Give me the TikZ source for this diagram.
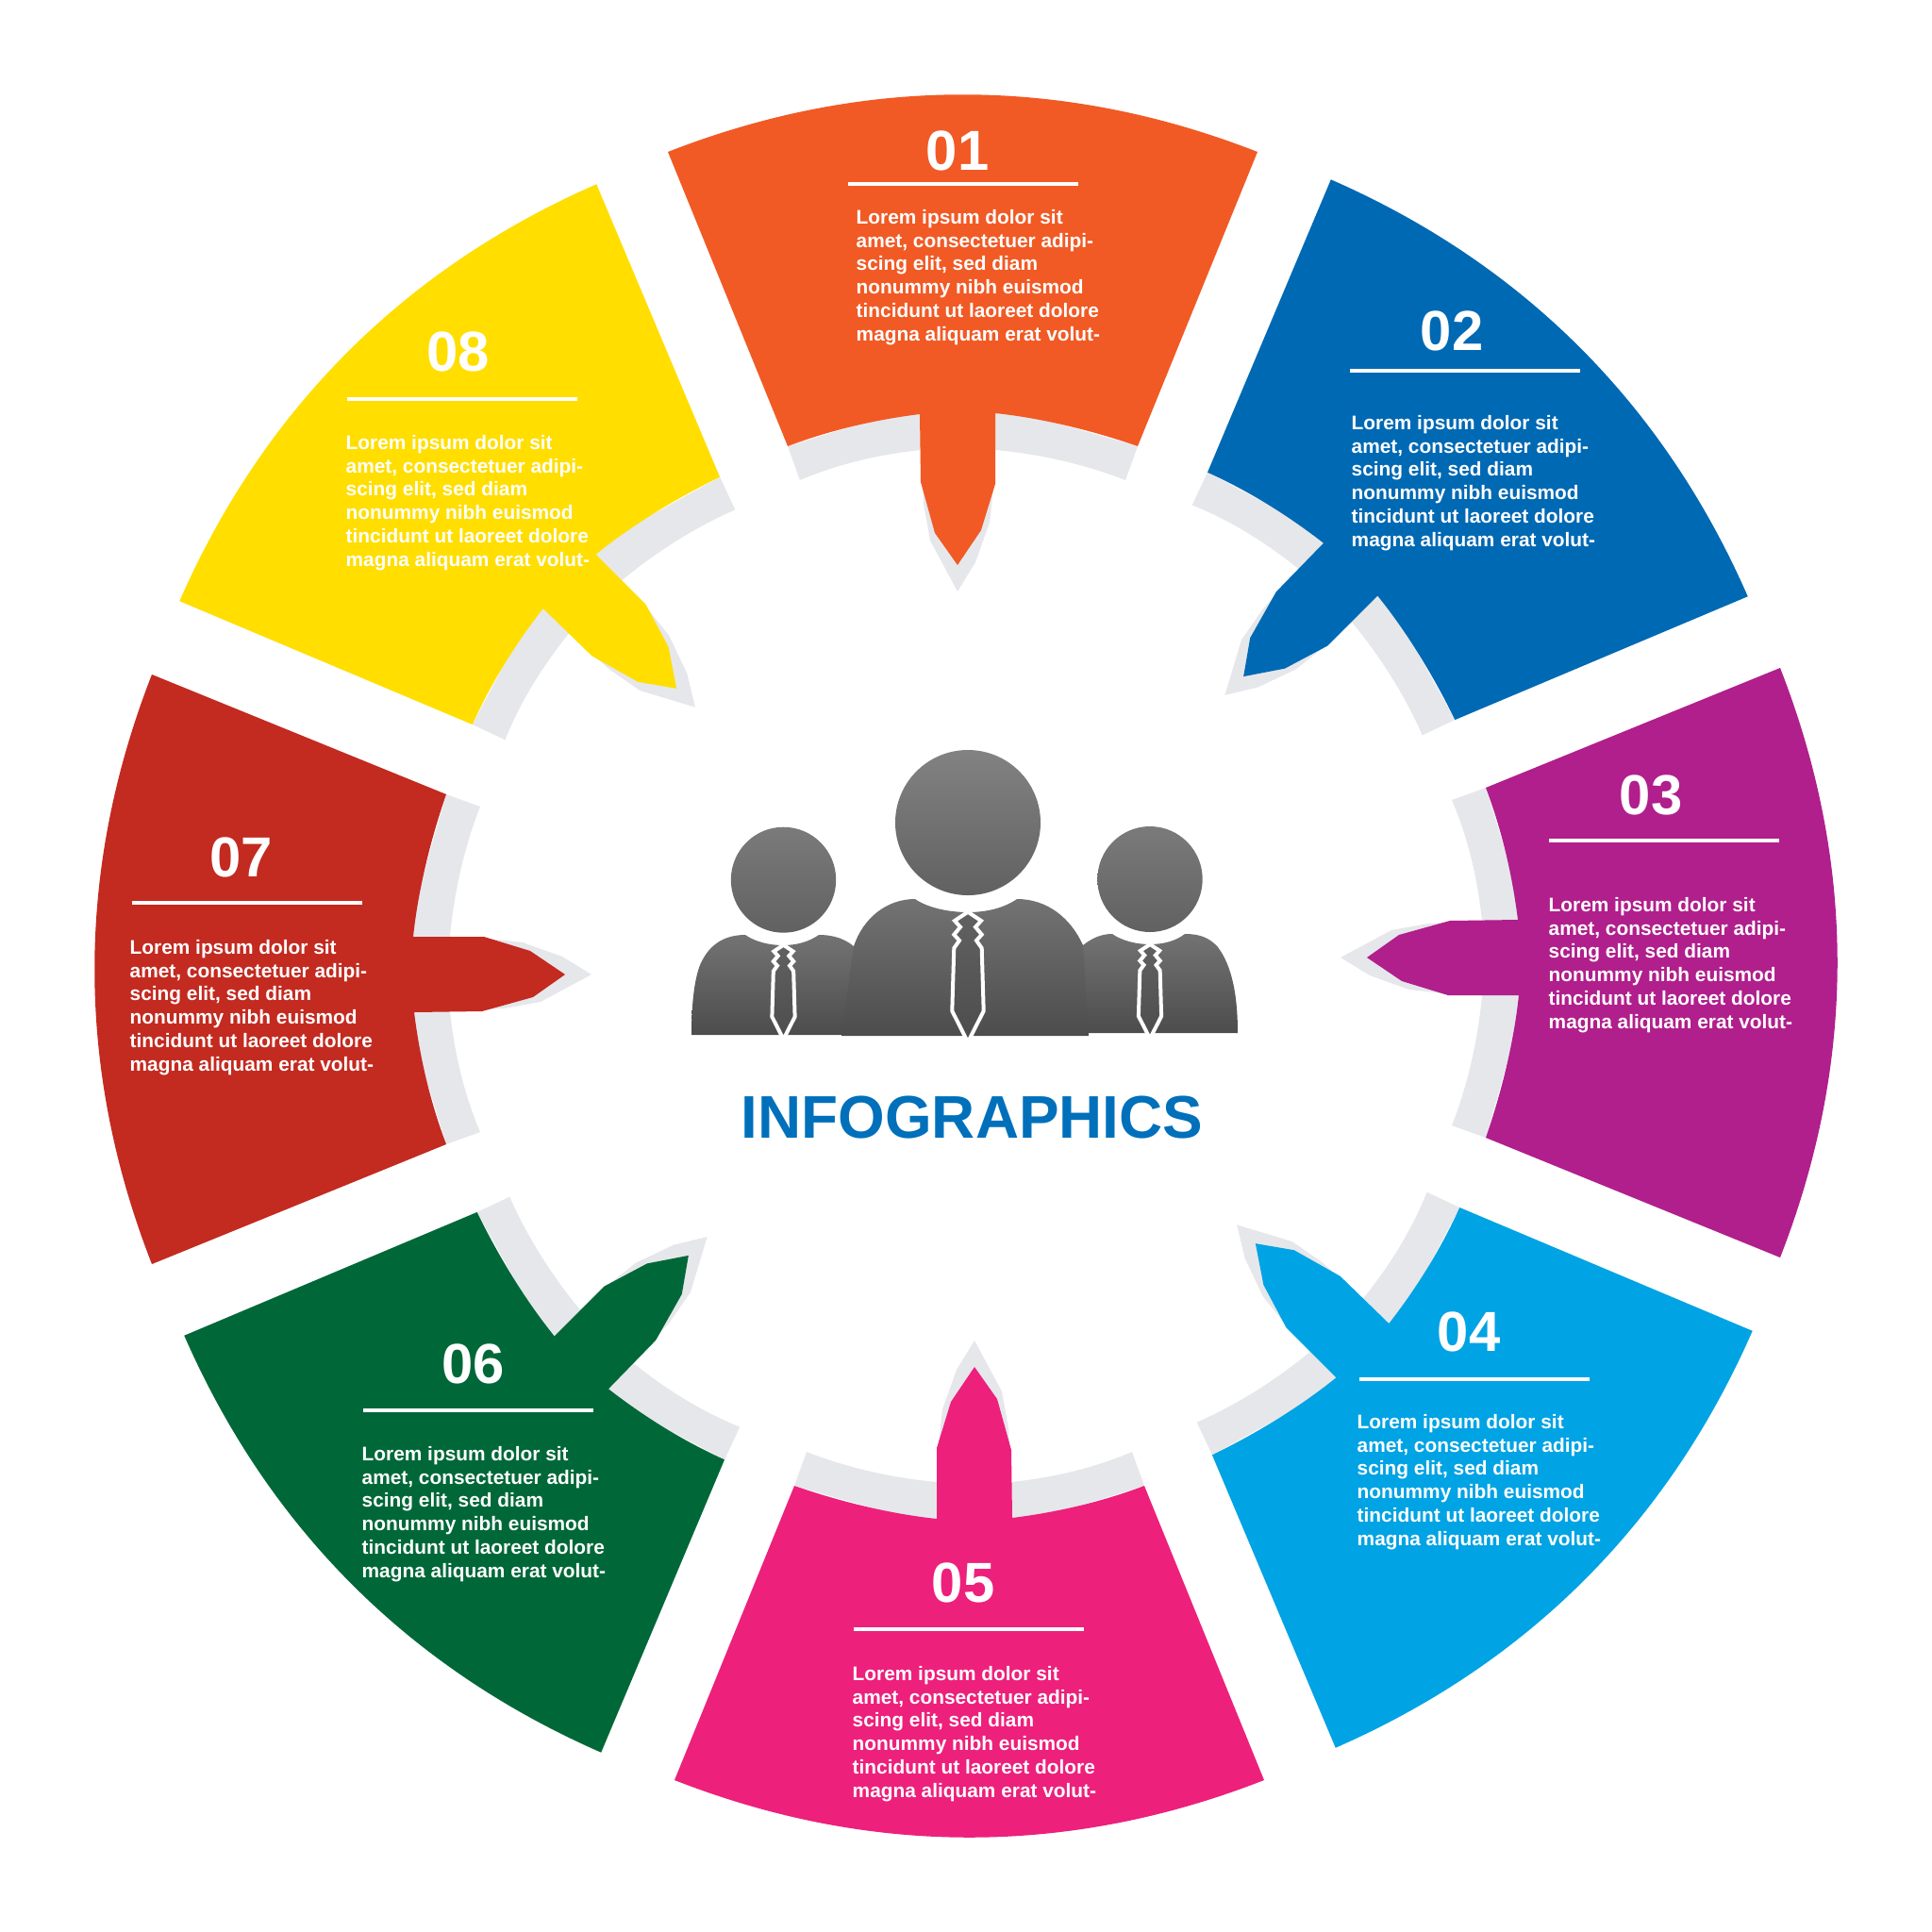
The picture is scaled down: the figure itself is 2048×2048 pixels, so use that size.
\documentclass[tikz,border=0pt]{standalone}
\usepackage{fontspec}
\setmainfont{Liberation Sans}
\definecolor{shadowgrey}{HTML}{E6E7EB}
\definecolor{petalA}{HTML}{F15A25}
\definecolor{petalB}{HTML}{0069B4}
\definecolor{petalC}{HTML}{B01F8C}
\definecolor{petalD}{HTML}{00A3E4}
\definecolor{petalE}{HTML}{ED207B}
\definecolor{petalF}{HTML}{006838}
\definecolor{petalG}{HTML}{C32A20}
\definecolor{petalH}{HTML}{FFDE00}
\definecolor{titleblue}{HTML}{0070BB}
\tikzset{
	numtext/.style={inner sep=0pt, text=white, font=\fontsize{17}{17}\selectfont\bfseries},
	blurb/.style={inner sep=0pt, anchor=west, align=left, text=white, font=\fontsize{5.93}{7.05}\selectfont\bfseries},
	rulebar/.style={inner sep=0pt, fill=white, minimum width=2.44cm, minimum height=.04cm},
	tieline/.style={draw=white, line width=.04cm, top color=black!62, bottom color=black!70},
	bodyshade/.style={top color=black!55, bottom color=black!70}
}
\newcommand{\blurbtext}{Lorem ipsum dolor sit\\amet, consectetuer adipi-\\scing elit, sed diam\\nonummy nibh euismod\\tincidunt ut laoreet dolore\\magna aliquam erat volut-}
\newcommand{\petal}[2]{%
	\fill [shadowgrey, rotate around={#2:(1024, 1024)}] (835, 473) -- (848, 509)
		.. controls (888, 492) and (930, 482) .. (976, 477) -- (979, 534) -- (986, 573) -- (1015, 627)
		-- (1034, 596) -- (1049, 554) -- (1053, 518) -- (1055, 477)
		.. controls (1100, 481) and (1150, 492) .. (1193, 509) -- (1206, 473)
		-- (1055, 430) -- (975, 430) -- cycle;
	\fill [#1, rotate around={#2:(1024, 1024)}] (708, 161)
		.. controls (915, 80) and (1126, 80) .. (1333, 161) -- (1206, 473)
		.. controls (1157, 456) and (1103, 443) .. (1055, 438) -- (1055, 513) -- (1040, 562)
		-- (1015, 599) -- (991, 565) -- (976, 511) -- (975, 439)
		.. controls (927, 445) and (880, 456) .. (835, 473) -- cycle;
}
\newcommand{\tie}[3]{%
	\draw [tieline, shift={(#1, #2)}, scale=#3] (0, 0) -- (14, 9.3) -- (8, 16) -- (14.7, 24)
		-- (9, 30.3) -- (14.7, 38.3) -- (16.7, 105) -- (0, 138) -- (-16.7, 105) -- (-14.7, 38.3)
		-- (-9, 30.3) -- (-14.7, 24) -- (-8, 16) -- (-14, 9.3) -- cycle;
}
\begin{document}
\begin{tikzpicture}[x=.01cm, y=-.01cm]
	\useasboundingbox (0, 0) rectangle (2048, 2048);

	\petal{petalA}{0}
	\petal{petalB}{-45}
	\petal{petalC}{-90}
	\petal{petalD}{-135}
	\petal{petalE}{-180}
	\petal{petalF}{-225}
	\petal{petalG}{-270}
	\petal{petalH}{-315}

	\node [numtext] at (1015, 160) (n1) {01};
	\node [rulebar] at (1021, 195) (r1) {};
	\node [blurb] at (907, 294) (t1) {\blurbtext};

	\node [numtext] at (1539, 351) (n2) {02};
	\node [rulebar] at (1553, 393) (r2) {};
	\node [blurb] at (1432, 512) (t2) {\blurbtext};

	\node [numtext] at (1750, 843) (n3) {03};
	\node [rulebar] at (1764, 891) (r3) {};
	\node [blurb] at (1641, 1023) (t3) {\blurbtext};

	\node [numtext] at (1557, 1412) (n4) {04};
	\node [rulebar] at (1563, 1462) (r4) {};
	\node [blurb] at (1438, 1571) (t4) {\blurbtext};

	\node [numtext] at (1021, 1678) (n5) {05};
	\node [rulebar] at (1027, 1727) (r5) {};
	\node [blurb] at (903, 1838) (t5) {\blurbtext};

	\node [numtext] at (502, 1446) (n6) {06};
	\node [rulebar] at (507, 1495) (r6) {};
	\node [blurb] at (383, 1605) (t6) {\blurbtext};

	\node [numtext] at (256, 909) (n7) {07};
	\node [rulebar] at (262, 957) (r7) {};
	\node [blurb] at (137, 1068) (t7) {\blurbtext};

	\node [numtext] at (486, 373) (n8) {08};
	\node [rulebar] at (490, 423) (r8) {};
	\node [blurb] at (366, 533) (t8) {\blurbtext};

	\shade [bodyshade] (733, 1097) .. controls (733, 1060) and (737, 1030) .. (745, 1017)
		.. controls (755, 998) and (772, 991) .. (790, 991) .. controls (800, 998) and (815, 1002) .. (830, 1002)
		.. controls (845, 1002) and (858, 998) .. (868, 991) .. controls (885, 991) and (897, 996) .. (906, 1004)
		-- (906, 1097) -- cycle;
	\shade [bodyshade] (1148, 1002) .. controls (1158, 994) and (1168, 990) .. (1179, 990)
		.. controls (1189, 997) and (1204, 1001) .. (1219, 1001) .. controls (1234, 1001) and (1247, 997) .. (1256, 990)
		.. controls (1272, 990) and (1282, 994) .. (1291, 1004) .. controls (1306, 1024) and (1312, 1055) .. (1312, 1095)
		-- (1148, 1095) -- cycle;
	\shade [bodyshade] (892, 1098) -- (905, 1003)
		.. controls (915, 973) and (940, 953) .. (970, 953) .. controls (983, 962) and (1005, 967) .. (1026, 967)
		.. controls (1047, 967) and (1065, 962) .. (1078, 953) .. controls (1110, 953) and (1135, 973) .. (1148, 1002)
		-- (1154, 1098) -- cycle;
	\tie{1026}{966.7}{1}
	\tie{830.5}{1001.7}{.725}
	\tie{1219}{1001}{.725}
	\shade [top color=black!49, bottom color=black!62] (1026, 872) ellipse [x radius=77, y radius=77];
	\shade [top color=black!52, bottom color=black!62] (830.5, 932.7) ellipse [x radius=55.7, y radius=56];
	\shade [top color=black!52, bottom color=black!62] (1219, 932) ellipse [x radius=55.7, y radius=56];

	\node [inner sep=0pt, text=titleblue, font=\fontsize{18.15}{18.15}\selectfont\bfseries] at (1030.5, 1185) (title) {INFOGRAPHICS};
\end{tikzpicture}
\end{document}
